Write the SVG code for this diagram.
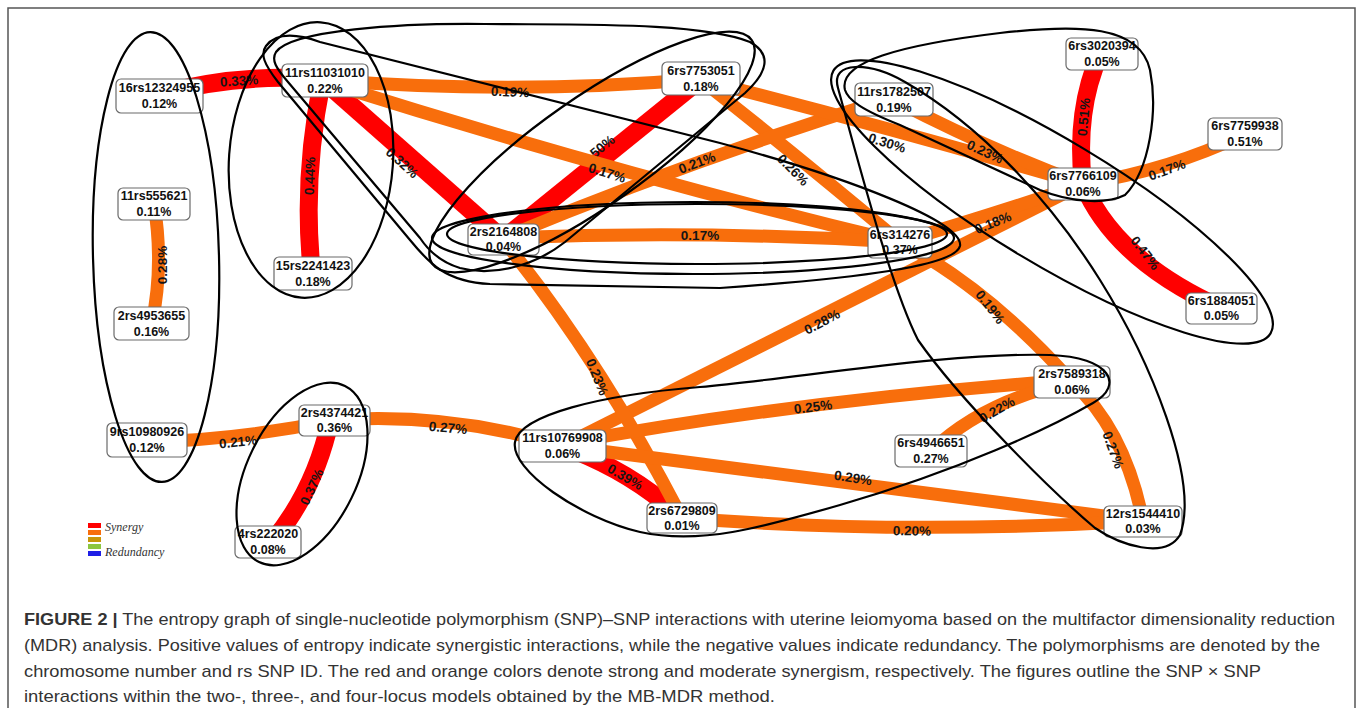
<svg xmlns="http://www.w3.org/2000/svg" width="1358" height="708" viewBox="0 0 1358 708">
<style>
.r{fill:none;stroke:#ff0000;stroke-width:18}
.o{fill:none;stroke:#f86e0c;stroke-width:13}
.lbl{font-family:"Liberation Sans",Arial,sans-serif;font-weight:bold;font-size:13.5px;fill:#151515;text-anchor:middle;dominant-baseline:central}
.node rect{fill:#fff;stroke:#6a6a6a;stroke-width:1.2}
.node text{font-family:"Liberation Sans",Arial,sans-serif;font-weight:bold;font-size:12.5px;fill:#111;text-anchor:middle}
.ell{fill:none;stroke:#000;stroke-width:2.2}
.cap{font-family:"Liberation Sans",Arial,sans-serif;font-size:17px;fill:#333}
.leg{font-family:"Liberation Serif","Times New Roman",serif;font-style:italic;font-size:12px;fill:#333}
</style>
<rect x="0" y="0" width="1358" height="708" fill="#fff"/>
<rect x="8" y="8" width="1347" height="730" fill="none" stroke="#555" stroke-width="1.5"/>

<g id="connectors">
<path class="r" d="M160,94 Q245,72 325,80"/><text class="lbl" transform="translate(239,81) rotate(-4)">0.33%</text>
<path class="o" stroke-width="10" d="M154,204 Q164,265 152,323"/><text class="lbl" transform="translate(162,265) rotate(-90)">0.28%</text>
<path class="r" stroke-width="19" d="M322,81 Q302,180 312,273"/><text class="lbl" transform="translate(310,176) rotate(-88)">0.44%</text>
<path class="r" d="M325,82 L503,239"/><text class="lbl" transform="translate(402,163) rotate(42)">0.32%</text>
<path class="o" d="M325,80 Q515,95 701,79"/><text class="lbl" transform="translate(510,92) rotate(2)">0.19%</text>
<path class="r" stroke-width="20" d="M503,239 L701,79"/><text class="lbl" transform="translate(598,150) rotate(-39)">0.50%</text>
<path class="o" d="M325,82 Q620,175 900,242"/><text class="lbl" transform="translate(607,173) rotate(17)">0.17%</text>
<path class="o" d="M503,238 Q700,230 900,242"/><text class="lbl" transform="translate(700,235)">0.17%</text>
<path class="o" d="M701,80 Q790,150 900,242"/><text class="lbl" transform="translate(793,170) rotate(45)">0.26%</text>
<path class="o" d="M503,238 Q690,160 894,97"/><text class="lbl" transform="translate(697,163) rotate(-21)">0.21%</text>
<path class="o" d="M701,80 Q880,125 1083,184"/><text class="lbl" transform="translate(887,143) rotate(17)">0.30%</text>
<path class="o" d="M894,100 Q990,150 1083,184"/><text class="lbl" transform="translate(985,152) rotate(25)">0.23%</text>
<path class="r" stroke-width="20" d="M1100,54 Q1075,110 1083,184"/><text class="lbl" transform="translate(1084,117) rotate(-85)">0.51%</text>
<path class="o" d="M1083,184 Q1170,170 1245,134"/><text class="lbl" transform="translate(1167,170) rotate(-20)">0.17%</text>
<path class="r" stroke-width="20" d="M1083,184 Q1115,260 1221,308"/><text class="lbl" transform="translate(1145,253) rotate(52)">0.47%</text>
<path class="o" d="M562,446 L1083,184"/><text class="lbl" transform="translate(822,322) rotate(-28)">0.28%</text>
<path class="o" d="M900,242 Q1000,212 1083,184"/><text class="lbl" transform="translate(993,223) rotate(-22)">0.18%</text>
<path class="o" d="M900,242 Q990,290 1072,382"/><text class="lbl" transform="translate(990,307) rotate(52)">0.19%</text>
<path class="r" stroke-width="16" d="M562,446 Q630,470 682,518"/><text class="lbl" transform="translate(625,477) rotate(30)">0.39%</text>
<path class="o" d="M503,240 Q600,360 682,518"/><text class="lbl" transform="translate(597,377) rotate(68)">0.23%</text>
<path class="o" d="M562,444 Q800,400 1072,380"/><text class="lbl" transform="translate(813,407) rotate(-7)">0.25%</text>
<path class="o" d="M562,446 L1143,521"/><text class="lbl" transform="translate(853,478) rotate(9)">0.29%</text>
<path class="o" d="M682,518 Q900,535 1143,521"/><text class="lbl" transform="translate(912,531) rotate(1)">0.20%</text>
<path class="o" d="M931,451 Q985,400 1072,382"/><text class="lbl" transform="translate(997,410) rotate(-30)">0.22%</text>
<path class="o" d="M1072,382 Q1125,430 1143,521"/><text class="lbl" transform="translate(1113,450) rotate(70)">0.27%</text>
<path class="o" d="M147,442 Q240,440 334,420"/><text class="lbl" transform="translate(238,442) rotate(-6)">0.21%</text>
<path class="o" d="M334,420 Q450,412 562,446"/><text class="lbl" transform="translate(448,428) rotate(5)">0.27%</text>
<path class="r" stroke-width="17" d="M330,421 Q315,490 272,542"/><text class="lbl" transform="translate(312,487) rotate(-65)">0.37%</text>
</g>

<g id="n1" class="node"><rect x="116" y="79" width="87" height="34" rx="5"/><text x="159.5" y="92">16rs12324955</text><text x="159.5" y="108">0.12%</text></g>
<g id="n2" class="node"><rect x="282" y="64" width="86" height="33" rx="5"/><text x="325" y="77">11rs11031010</text><text x="325" y="93">0.22%</text></g>
<g id="n3" class="node"><rect x="118" y="188" width="72" height="32" rx="5"/><text x="154" y="200">11rs555621</text><text x="154" y="216">0.11%</text></g>
<g id="n4" class="node"><rect x="114" y="307" width="75" height="33" rx="5"/><text x="151.5" y="320">2rs4953655</text><text x="151.5" y="336">0.16%</text></g>
<g id="n5" class="node"><rect x="274" y="257" width="78" height="33" rx="5"/><text x="313" y="270">15rs2241423</text><text x="313" y="286">0.18%</text></g>
<g id="n6" class="node"><rect x="107" y="423" width="80" height="34" rx="5"/><text x="147" y="436">9rs10980926</text><text x="147" y="452">0.12%</text></g>
<g id="n7" class="node"><rect x="299" y="405" width="71" height="31" rx="5"/><text x="334.5" y="417">2rs4374421</text><text x="334.5" y="432">0.36%</text></g>
<g id="n8" class="node"><rect x="235" y="526" width="66" height="32" rx="5"/><text x="268" y="538">4rs222020</text><text x="268" y="554">0.08%</text></g>
<g id="n9" class="node"><rect x="662" y="62" width="78" height="33" rx="5"/><text x="701" y="75">6rs7753051</text><text x="701" y="91">0.18%</text></g>
<g id="n10" class="node"><rect x="468" y="224" width="71" height="31" rx="5"/><text x="503.5" y="236">2rs2164808</text><text x="503.5" y="251">0.04%</text></g>
<g id="n11" class="node"><rect x="868" y="227" width="64" height="31" rx="5"/><text x="900" y="239">6rs314276</text><text x="900" y="254">0.37%</text></g>
<g id="n12" class="node"><rect x="855" y="83" width="78" height="33" rx="5"/><text x="894" y="96">11rs1782507</text><text x="894" y="112">0.19%</text></g>
<g id="n13" class="node"><rect x="1066" y="38" width="72" height="32" rx="5"/><text x="1102" y="50">6rs3020394</text><text x="1102" y="66">0.05%</text></g>
<g id="n14" class="node"><rect x="1208" y="118" width="74" height="32" rx="5"/><text x="1245" y="130">6rs7759938</text><text x="1245" y="146">0.51%</text></g>
<g id="n15" class="node"><rect x="1048" y="168" width="70" height="32" rx="5"/><text x="1083" y="180">6rs7766109</text><text x="1083" y="196">0.06%</text></g>
<g id="n16" class="node"><rect x="1186" y="293" width="71" height="31" rx="5"/><text x="1221.5" y="305">6rs1884051</text><text x="1221.5" y="320">0.05%</text></g>
<g id="n17" class="node"><rect x="1034" y="366" width="76" height="32" rx="5"/><text x="1072" y="378">2rs7589318</text><text x="1072" y="394">0.06%</text></g>
<g id="n18" class="node"><rect x="895" y="435" width="72" height="32" rx="5"/><text x="931" y="447">6rs4946651</text><text x="931" y="463">0.27%</text></g>
<g id="n19" class="node"><rect x="1104" y="506" width="78" height="31" rx="5"/><text x="1143" y="518">12rs1544410</text><text x="1143" y="533">0.03%</text></g>
<g id="n20" class="node"><rect x="519" y="430" width="87" height="32" rx="5"/><text x="562.5" y="442">11rs10769908</text><text x="562.5" y="458">0.06%</text></g>
<g id="n21" class="node"><rect x="647" y="503" width="70" height="30" rx="5"/><text x="682" y="515">2rs6729809</text><text x="682" y="530">0.01%</text></g>

<g id="groups">
<ellipse class="ell" cx="156" cy="257" rx="63" ry="225" transform="rotate(-1.5 156 257)"/>
<ellipse class="ell" cx="311" cy="160" rx="82" ry="138" transform="rotate(4 311 160)"/>
<ellipse class="ell" cx="302" cy="474" rx="55" ry="98" transform="rotate(26 302 474)"/>
<ellipse class="ell" cx="592" cy="152" rx="195" ry="54" transform="rotate(-35 592 152)"/>
<ellipse class="ell" cx="697" cy="234" rx="250" ry="30"/>
<ellipse class="ell" cx="693" cy="238" rx="261" ry="36"/>
<path class="ell" d="M266,46 C275,34 292,32 320,42 L720,143 C850,178 964,222 960,246 C955,266 860,278 720,288 L490,284 C445,282 428,262 410,240 L278,82 C264,64 260,54 266,46 Z"/>
<path class="ell" d="M276,52 C292,30 400,23 485,24 C580,25 700,22 750,42 C772,54 768,72 745,93 L565,242 C532,268 490,276 460,268 C440,262 428,250 420,238 L288,82 C276,68 271,60 276,52 Z"/>
<path class="ell" d="M845,90 C838,62 900,45 1000,33 C1080,24 1140,25 1150,70 C1158,110 1150,170 1125,195 C1105,205 1070,202 1040,190 L900,125 C862,110 848,100 845,90 Z"/>
<ellipse class="ell" cx="1052" cy="202" rx="255" ry="62" transform="rotate(31 1052 202)"/>
<path class="ell" d="M838,88 C830,60 870,62 905,82 C980,125 1050,200 1100,280 C1150,360 1200,480 1180,535 C1165,560 1120,545 1095,528 C1050,490 960,400 918,340 C890,285 855,150 838,88 Z"/>
<path class="ell" d="M515,442 C520,415 600,395 700,387 C800,378 950,352 1050,355 C1110,357 1125,385 1093,403 C1050,428 960,470 840,505 C760,528 700,545 640,532 C580,518 510,470 515,442 Z"/>
</g>

<g id="legend">
<rect x="88" y="523" width="13" height="5" fill="#ff0000"/>
<rect x="88" y="530" width="13" height="5" fill="#f86e0c"/>
<rect x="88" y="537" width="13" height="5" fill="#c8960a"/>
<rect x="88" y="544" width="13" height="5" fill="#8cc63f"/>
<rect x="88" y="551" width="13" height="5" fill="#1f1fe6"/>
<text class="leg" x="105" y="531">Synergy</text>
<text class="leg" x="105" y="556">Redundancy</text>
</g>

<g id="caption">
<text class="cap" x="24" y="625" textLength="1311" lengthAdjust="spacingAndGlyphs"><tspan font-weight="bold">FIGURE 2 |</tspan> The entropy graph of single-nucleotide polymorphism (SNP)–SNP interactions with uterine leiomyoma based on the multifactor dimensionality reduction</text>
<text class="cap" x="24" y="651" textLength="1296" lengthAdjust="spacingAndGlyphs">(MDR) analysis. Positive values of entropy indicate synergistic interactions, while the negative values indicate redundancy. The polymorphisms are denoted by the</text>
<text class="cap" x="24" y="677" textLength="1237" lengthAdjust="spacingAndGlyphs">chromosome number and rs SNP ID. The red and orange colors denote strong and moderate synergism, respectively. The figures outline the SNP × SNP</text>
<text class="cap" x="24" y="702" textLength="751" lengthAdjust="spacingAndGlyphs">interactions within the two-, three-, and four-locus models obtained by the MB-MDR method.</text>
</g>
</svg>
